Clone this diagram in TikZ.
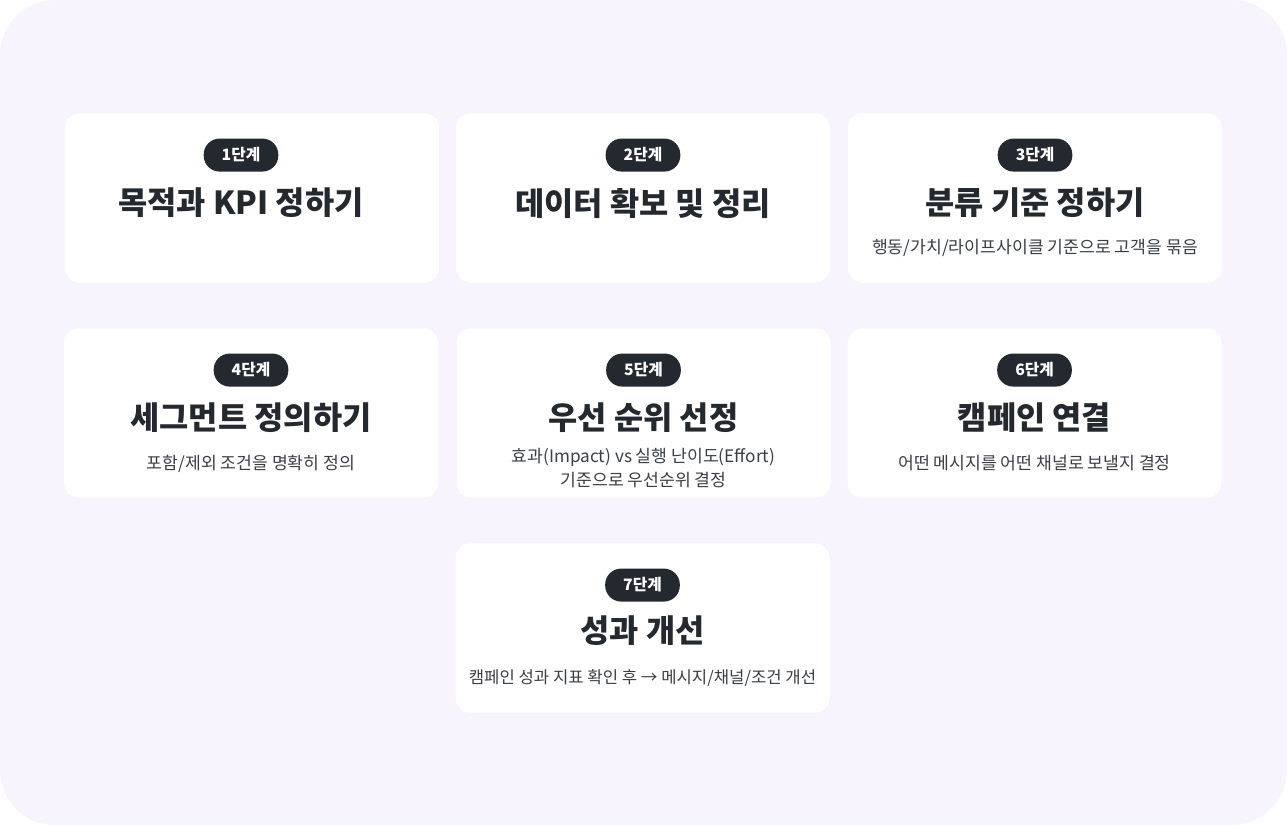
\documentclass[tikz,border=0pt]{standalone}
\usepackage{fontspec}
\setmainfont{Noto Sans CJK KR}
\usepackage{tikz}

\definecolor{bgpanel}{HTML}{F7F4FD}
\definecolor{inkdark}{HTML}{24292F}
\definecolor{inktext}{HTML}{3A3F45}

\begin{document}
\begin{tikzpicture}[x=0.75pt, y=-0.75pt,
    card/.style={fill=white, rounded corners=11pt, minimum width=280.5pt, minimum height=127pt, inner sep=0pt},
    badge/.style={fill=inkdark, text=white, rounded corners=12pt, minimum width=56pt, minimum height=24.75pt, inner sep=0pt, font=\fontsize{11.8}{13}\selectfont\bfseries},
    title/.style={text=inkdark, inner sep=0pt, font=\fontsize{23.8}{27}\selectfont\bfseries},
    note/.style={text=inktext, inner sep=0pt, align=center, font=\fontsize{12.9}{17.5}\selectfont}]

    % Background
    \useasboundingbox (0,0) rectangle (1287,825);
    \fill[bgpanel, rounded corners=41pt] (0,0) rectangle (1287,825);

    % Cards
    \node [card] (c1) at (252,198) {};
    \node [card] (c2) at (643,198) {};
    \node [card] (c3) at (1035,198) {};
    \node [card] (c4) at (251,413) {};
    \node [card] (c5) at (643.5,413) {};
    \node [card] (c6) at (1034.5,413) {};
    \node [card] (c7) at (642.5,628) {};

    % Step 1
    \node [badge] (b1) at ([xshift=-8.25pt, yshift=-31.5pt]c1.north) {1단계};
    \node [title] (t1) at ([xshift=-8.25pt, yshift=-67.5pt]c1.north) {목적과 KPI 정하기};

    % Step 2
    \node [badge] (b2) at ([yshift=-31.5pt]c2.north) {2단계};
    \node [title] (t2) at ([yshift=-67.5pt]c2.north) {데이터 확보 및 정리};

    % Step 3
    \node [badge] (b3) at ([yshift=-31.5pt]c3.north) {3단계};
    \node [title] (t3) at ([yshift=-67.5pt]c3.north) {분류 기준 정하기};
    \node [note] (n3) at ([yshift=-101pt]c3.north) {행동/가치/라이프사이클 기준으로 고객을 묶음};

    % Step 4
    \node [badge] (b4) at ([yshift=-31.5pt]c4.north) {4단계};
    \node [title] (t4) at ([yshift=-67pt]c4.north) {세그먼트 정의하기};
    \node [note] (n4) at ([yshift=-101.5pt]c4.north) {포함/제외 조건을 명확히 정의};

    % Step 5
    \node [badge] (b5) at ([yshift=-31.5pt]c5.north) {5단계};
    \node [title] (t5) at ([yshift=-67pt]c5.north) {우선 순위 선정};
    \node [note] (n5) at ([yshift=-105pt]c5.north) {효과(Impact) vs 실행 난이도(Effort)\\기준으로 우선순위 결정};

    % Step 6
    \node [badge] (b6) at ([yshift=-31.5pt]c6.north) {6단계};
    \node [title] (t6) at ([yshift=-67pt]c6.north) {캠페인 연결};
    \node [note] (n6) at ([yshift=-101.5pt]c6.north) {어떤 메시지를 어떤 채널로 보낼지 결정};

    % Step 7
    \node [badge] (b7) at ([yshift=-31.5pt]c7.north) {7단계};
    \node [title] (t7) at ([yshift=-66pt]c7.north) {성과 개선};
    \node [note, font=\fontsize{12.5}{17.5}\selectfont] (n7) at ([yshift=-101.5pt]c7.north) {캠페인 성과 지표 확인 후 → 메시지/채널/조건 개선};

\end{tikzpicture}
\end{document}
